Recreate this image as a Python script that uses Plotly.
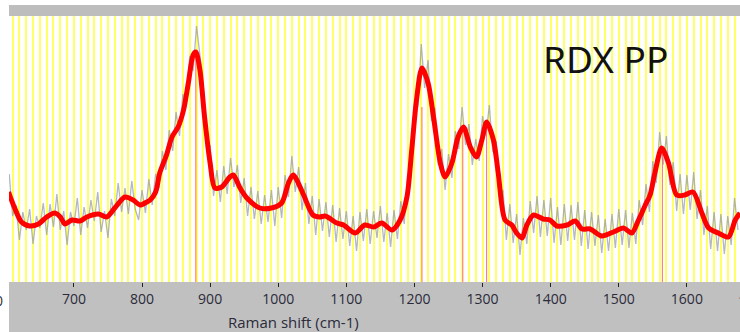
import numpy as np
import plotly.graph_objects as go

# ---- data -------------------------------------------------------------
smooth_shift = [604, 613, 623, 635, 648, 660, 672, 680, 687, 697, 709, 719, 736, 748, 760,
                775, 787, 797, 807, 812, 820, 826, 836, 844, 853, 861, 868, 875, 879, 885,
                892, 900, 907, 917, 929, 934, 944, 954, 973, 990, 1005, 1015, 1022, 1036,
                1051, 1061, 1069, 1086, 1096, 1113, 1127, 1140, 1152, 1167, 1179, 1189, 1196,
                1203, 1211, 1220, 1228, 1238, 1245, 1255, 1264, 1272, 1282, 1291, 1299, 1306,
                1316, 1323, 1333, 1343, 1350, 1358, 1365, 1375, 1389, 1399, 1409, 1424, 1436,
                1446, 1458, 1475, 1492, 1507, 1519, 1529, 1539, 1546, 1553, 1563, 1573, 1585,
                1597, 1609, 1622, 1632, 1646, 1661, 1671, 1678]
smooth_counts = [90, 74, 60, 56, 58, 65, 69, 65, 58, 62, 61, 65, 68, 65, 74,
                 85, 82, 77, 80, 82, 90, 109, 127, 145, 155, 172, 199, 227, 230, 212,
                 164, 119, 94, 95, 105, 107, 94, 84, 74, 74, 79, 99, 107, 89,
                 67, 65, 66, 59, 57, 49, 57, 55, 59, 52, 62, 85, 132,
                 182, 214, 199, 165, 119, 105, 119, 145, 155, 135, 125, 142, 160,
                 142, 109, 62, 57, 49, 44, 57, 67, 63, 62, 56, 57, 61,
                 53, 53, 46, 50, 54, 49, 62, 77, 87, 109, 134, 119, 87,
                 87, 90, 69, 54, 49, 45, 62, 69]

raw_shift = np.arange(605, 1680, 5)
raw_counts = [108, 66, 77, 42, 70, 52, 73, 38, 66, 54, 79, 47, 78, 55, 88, 52, 71, 37, 70, 56,
              84, 47, 75, 54, 82, 61, 90, 50, 71, 44, 83, 66, 99, 70, 94, 68, 101, 73, 62, 92,
              69, 103, 77, 108, 94, 131, 112, 152, 131, 170, 146, 188, 175, 226, 211, 256, 227, 194, 129, 137,
              86, 112, 80, 116, 88, 124, 95, 117, 79, 104, 66, 95, 63, 91, 58, 87, 60, 92, 56, 95,
              64, 107, 85, 126, 90, 115, 72, 99, 58, 86, 47, 83, 51, 80, 45, 77, 40, 74, 43, 71,
              36, 66, 31, 70, 41, 73, 38, 71, 44, 76, 40, 69, 35, 72, 43, 81, 58, 107, 112, 178,
              176, 238, 194, 222, 161, 174, 117, 133, 92, 128, 104, 151, 133, 175, 137, 158, 117, 143, 121, 166,
              146, 177, 130, 141, 84, 92, 42, 78, 39, 68, 27, 64, 38, 81, 49, 86, 45, 82, 46, 84,
              39, 75, 37, 78, 41, 77, 42, 80, 36, 72, 33, 70, 36, 67, 29, 63, 31, 68, 34, 73,
              37, 72, 34, 69, 38, 82, 57, 98, 70, 121, 99, 150, 117, 146, 97, 120, 71, 108, 68, 107,
              72, 110, 63, 92, 47, 76, 33, 70, 31, 68, 28, 66, 37, 84, 52]

peak_shift = [879, 1211, 1271, 1306, 1564]
peak_counts = [225, 175, 150, 155, 130]

tick_values = [700, 800, 900, 1000, 1100, 1200, 1300, 1400, 1500, 1600]
edge_ticks = [600, 1700]
x_range = [604.7, 1678.0]
y_range = [0, 266]

# ---- figure -----------------------------------------------------------
fig = go.Figure()

fig.add_trace(go.Scatter(x=raw_shift, y=raw_counts[:len(raw_shift)], mode="lines",
                         line=dict(color="rgba(140,145,160,0.65)", width=1.3),
                         hoverinfo="skip"))

px_, py_ = [], []
for s, c in zip(peak_shift, peak_counts):
    px_ += [s, s, None]
    py_ += [0, c, None]
fig.add_trace(go.Scatter(x=px_, y=py_, mode="lines",
                         line=dict(color="#ff6b6b", width=1), hoverinfo="skip"))

fig.add_trace(go.Scatter(x=smooth_shift, y=smooth_counts, mode="lines",
                         line=dict(color="#ff0000", width=5, shape="spline", smoothing=0.8)))

fig.update_layout(
    width=740, height=332,
    margin=dict(l=9, r=0, t=16, b=50),
    paper_bgcolor="white", plot_bgcolor="white",
    showlegend=False,
    xaxis=dict(range=x_range, tickvals=tick_values, ticktext=[str(v) for v in tick_values],
               ticks="outside", ticklen=4, tickcolor="#222", tickwidth=1,
               showline=False, zeroline=False,
               showgrid=True, gridcolor="#ffff66", gridwidth=1.5,
               minor=dict(dtick=10, tick0=600, showgrid=True, gridcolor="#ffff66", gridwidth=1.5, ticks=""),
               tickfont=dict(family="Open Sans", size=14, color="#2b2b3b"),
               ticklabeloverflow="allow"),
    yaxis=dict(range=y_range, visible=False, showgrid=False, zeroline=False),
)

# grey frame areas
fig.add_shape(type="rect", xref="paper", yref="paper", x0=0, x1=1, y0=-50 / 266, y1=0,
              fillcolor="#c0c0c0", line=dict(width=0), layer="below")
fig.add_shape(type="rect", xref="paper", yref="paper", x0=0, x1=1, y0=1, y1=1 + 11 / 266,
              fillcolor="#bdbdbd", line=dict(width=0), layer="below")

# partial edge tick labels (cut off by the chart edges, as in the source)
fig.add_annotation(x=(5 - 9) / 731, xref="paper", y=0, yref="paper", yshift=-18,
                   text=str(edge_ticks[0]), showarrow=False, xanchor="right", yanchor="middle",
                   font=dict(family="Open Sans", size=14, color="#2b2b3b"))
fig.add_annotation(x=(736 - 9) / 731, xref="paper", y=0, yref="paper", yshift=-18,
                   text=str(edge_ticks[1]), showarrow=False, xanchor="left", yanchor="middle",
                   font=dict(family="Open Sans", size=14, color="#2b2b3b"))

fig.add_annotation(x=(293 - 9) / 731, xref="paper", y=-40 / 266, yref="paper",
                   text="Raman shift (cm-1)", showarrow=False, xanchor="center", yanchor="middle",
                   font=dict(family="Open Sans", size=15, color="#2b2b3b"))

fig.add_annotation(x=(541 - 9) / 731, xref="paper", y=(282 - 58.5) / 266, yref="paper",
                   text="RDX PP", showarrow=False, xanchor="left", yanchor="middle",
                   font=dict(family="Noto Sans", size=37, color="#111"))

fig.write_html("out.html", config={"displayModeBar": False},
               post_script="document.body.style.margin='0';document.body.style.overflow='hidden';")
